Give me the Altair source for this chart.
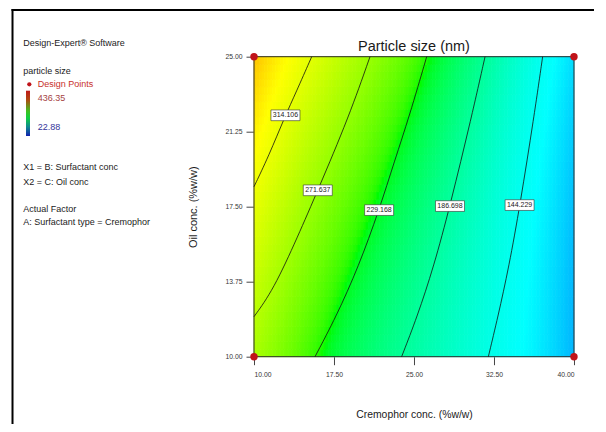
import altair as alt
import numpy as np
import pandas as pd

FONT = "Liberation Sans"

# ---------------- data ----------------
x_ticks = [10.0, 17.5, 25.0, 32.5, 40.0]
y_ticks = [10.0, 13.75, 17.5, 21.25, 25.0]

levels = [314.106, 271.637, 229.168, 186.698, 144.229]
c314_x = [15.41, 13.9, 12.95, 11.35, 10.0]
c314_y = [25.0, 23.17, 22.07, 20.0, 18.5]
c271_x = [20.875, 18.9, 15.98, 14.1, 11.8, 10.0]
c271_y = [25.0, 22.0, 18.32, 16.0, 13.33, 12.0]
c229_x = [26.19, 24.55, 23.2, 21.73, 19.8, 17.7, 15.72]
c229_y = [25.0, 22.0, 19.83, 17.33, 14.5, 12.0, 10.0]
c186_x = [31.66, 30.4, 28.375, 26.85, 25.3, 23.84]
c186_y = [25.0, 22.0, 17.53, 14.5, 12.0, 10.0]
c144_x = [37.06, 36.25, 34.94, 33.9, 32.87, 31.97]
c144_y = [25.0, 22.0, 17.58, 14.5, 12.0, 10.0]

label_x = [12.95, 15.98, 21.73, 28.375, 34.9]
label_y = [22.07, 18.32, 17.33, 17.53, 17.58]

# shading read along the edges of the plot
edge_x = [10.0, 40.0, 40.0, 40.0, 10.0]
edge_y = [25.0, 25.0, 17.5, 10.0, 10.0]
edge_z = [370.0, 100.0, 90.0, 82.0, 288.0]

design_x = [10.0, 10.0, 40.0, 40.0]
design_y = [10.0, 25.0, 10.0, 25.0]

z_low, z_high = 22.88, 436.35

# ---------------- surface fitted to the read contours ----------------
cx = [c314_x, c271_x, c229_x, c186_x, c144_x]
cy = [c314_y, c271_y, c229_y, c186_y, c144_y]
px, py, pz = [], [], []
for lv, xs, ys in zip(levels, cx, cy):
    px += xs; py += ys; pz += [lv] * len(xs)
for _ in range(3):  # edge readings weighted more
    px += edge_x; py += edge_y; pz += edge_z
px, py, pz = np.array(px), np.array(py), np.array(pz)


def feats(x, y):
    X = (x - 25.0) / 15.0
    Y = (y - 17.5) / 7.5
    return np.stack([np.ones_like(X), X, Y, X * Y, X * X, Y * Y, X ** 3], axis=-1)


coef, *_ = np.linalg.lstsq(feats(px, py), pz, rcond=None)

nx, ny = 120, 40
xe = np.linspace(10, 40, nx + 1)
ye = np.linspace(10, 25, ny + 1)
xm = (xe[:-1] + xe[1:]) / 2
ym = (ye[:-1] + ye[1:]) / 2
XX, YY = np.meshgrid(xm, ym)
ZZ = feats(XX, YY) @ coef
X0, Y0 = np.meshgrid(xe[:-1], ye[:-1])
X1, Y1 = np.meshgrid(xe[1:], ye[1:])
grid = pd.DataFrame({
    "x": X0.ravel().round(4), "x2": X1.ravel().round(4),
    "y": Y0.ravel().round(4), "y2": Y1.ravel().round(4),
    "z": ZZ.ravel().round(2),
})

lines = pd.DataFrame({
    "x": sum(cx, []), "y": sum(cy, []),
    "level": sum([[str(lv)] * len(xs) for lv, xs in zip(levels, cx)], []),
})
labels = pd.DataFrame({"x": label_x, "y": label_y, "t": [f"{v:.3f}" for v in levels]})
design = pd.DataFrame({"x": design_x, "y": design_y})
one = pd.DataFrame({"a": [0]})

# ---------------- chart ----------------
W, H = 320, 300
zmid = [z_low, z_low + (z_high - z_low) * 0.25, z_low + (z_high - z_low) * 0.5,
        z_low + (z_high - z_low) * 0.75, z_high]
cscale = alt.Scale(domain=zmid,
                   range=["#0000ff", "#00ffff", "#00fc00", "#ffff00", "#ff0000"])

xscale = alt.Scale(domain=[10, 40], nice=False, zero=False)
yscale = alt.Scale(domain=[10, 25], nice=False, zero=False)

xaxis = alt.Axis(values=x_ticks, format=".2f", title="Cremophor conc. (%w/w)",
                 titleX=W / 2, titleY=58, titleBaseline="middle", titleFontSize=10.4,
                 labelPadding=7, tickSize=8)
yaxis = alt.Axis(values=y_ticks, format=".2f", title="Oil conc. (%w/w)",
                 titleX=-61, titleY=H / 2, titleBaseline="middle", titleAlign="center",
                 titleAngle=270, titleFontSize=11, labelPadding=4, tickSize=8)

heat = alt.Chart(grid).mark_rect(strokeWidth=0.8).encode(
    x=alt.X("x:Q", scale=xscale, axis=xaxis),
    x2="x2:Q",
    y=alt.Y("y:Q", scale=yscale, axis=yaxis),
    y2="y2:Q",
    color=alt.Color("z:Q", scale=cscale, legend=None),
    stroke=alt.Stroke("z:Q", scale=cscale, legend=None),
)

frame = alt.Chart(one).mark_rect(fillOpacity=0, stroke="#2b2b2b", strokeWidth=1).encode(
    x=alt.value(0), x2=alt.value(W), y=alt.value(0), y2=alt.value(H))

clines = alt.Chart(lines).mark_line(color="#111111", strokeWidth=0.8,
                                     interpolate="basis").encode(
    x="x:Q", y="y:Q", detail="level:N")

box_path = "M-1,-0.37L1,-0.37L1,0.37L-1,0.37Z"
boxes = alt.Chart(labels).mark_point(shape=box_path, size=841, filled=True,
                                      fill="white", fillOpacity=1, opacity=1,
                                      stroke="#333333", strokeWidth=0.6).encode(
    x="x:Q", y="y:Q")
btext = alt.Chart(labels).mark_text(fontSize=7, font=FONT, color="#222222").encode(
    x="x:Q", y="y:Q", text="t:N")

pts = alt.Chart(design).mark_circle(size=55, color="#c0141a", opacity=1).encode(
    x="x:Q", y="y:Q")

title = alt.Chart(one).mark_text(text="Particle size (nm)", fontSize=14.5, font=FONT,
                                 color="#1a1a1a", align="center",
                                 baseline="alphabetic").encode(
    x=alt.value(W / 2), y=alt.value(-6))

notes = [
    ("Design-Expert® Software", -230.7, -13.4, "#222222"),
    ("particle size", -230.7, 14.0, "#222222"),
    ("Design Points", -216.3, 27.6, "#c8302a"),
    ("436.35", -216.3, 41.6, "#a5423f"),
    ("22.88", -216.3, 70.0, "#34349a"),
    ("X1 = B: Surfactant conc", -230.7, 110.0, "#222222"),
    ("X2 = C: Oil conc", -230.7, 125.0, "#222222"),
    ("Actual Factor", -230.7, 152.3, "#222222"),
    ("A: Surfactant type = Cremophor", -230.7, 165.6, "#222222"),
]
note_layers = [
    alt.Chart(one).mark_text(text=t, fontSize=9, font=FONT, color=c, align="left",
                             baseline="middle").encode(x=alt.value(nx_), y=alt.value(ny_))
    for t, nx_, ny_, c in notes
]

legend_dot = alt.Chart(one).mark_circle(size=18, color="#c0141a", opacity=1).encode(
    x=alt.value(-224.7), y=alt.value(27.6))

bar = alt.Chart(one).mark_rect(color=alt.LinearGradient(
    gradient="linear", x1=0, x2=0, y1=0, y2=1,
    stops=[alt.GradientStop(color="#c01818", offset=0),
           alt.GradientStop(color="#b04a10", offset=0.2),
           alt.GradientStop(color="#40c020", offset=0.45),
           alt.GradientStop(color="#10d040", offset=0.6),
           alt.GradientStop(color="#108890", offset=0.8),
           alt.GradientStop(color="#1020b0", offset=1)])).encode(
    x=alt.value(-228), x2=alt.value(-224), y=alt.value(34), y2=alt.value(79.3))

vline = alt.Chart(one).mark_rule(color="black", strokeWidth=2).encode(
    x=alt.value(-241.5), y=alt.value(-47.7), y2=alt.value(370))
hline = alt.Chart(one).mark_rule(color="black", strokeWidth=2).encode(
    y=alt.value(-46.7), x=alt.value(-242.5), x2=alt.value(340))

chart = alt.layer(
    heat, frame, clines, boxes, btext, pts, title, legend_dot, bar, vline, hline,
    *note_layers
).properties(
    width=W, height=H,
    autosize=alt.AutoSizeParams(type="none"),
    padding={"left": 246, "top": 48.7, "right": 24, "bottom": 67},
).configure_view(
    strokeWidth=0
).configure_axis(
    labelFont=FONT, titleFont=FONT, labelFontSize=6.8, labelColor="#333333",
    titleColor="#1a1a1a", titleFontWeight="normal", tickColor="#444444",
    tickWidth=1, domain=False, grid=False,
)

chart.save("out.html", embed_options={"renderer": "svg", "actions": False})
